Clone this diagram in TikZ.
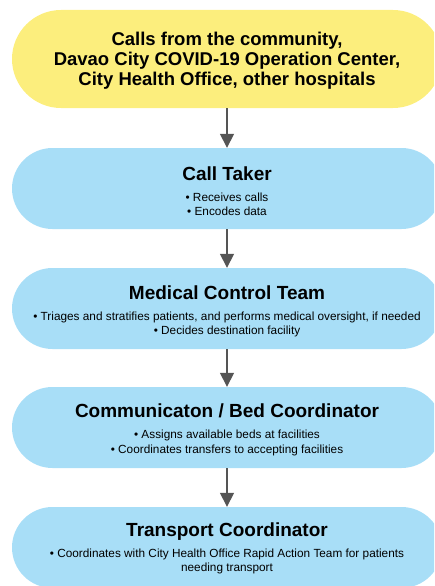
\documentclass[tikz,border=0pt]{standalone}
\usepackage{fontspec}
\setmainfont{Liberation Sans}
\usetikzlibrary{arrows.meta,shapes.misc}
\definecolor{boxyellow}{RGB}{252,238,125}
\definecolor{boxblue}{RGB}{168,222,247}
\definecolor{arrowgray}{RGB}{85,85,85}
\begin{document}
\begin{tikzpicture}[x=1pt,y=1pt,
  stadium/.style={rounded rectangle, draw=none, inner sep=0pt, minimum width=430pt},
  titletext/.style={anchor=base, inner sep=0pt, font=\fontsize{19}{20}\selectfont\bfseries},
  headtext/.style={anchor=base, inner sep=0pt, font=\fontsize{18.5}{20}\selectfont\bfseries},
  bodytext/.style={anchor=base, inner sep=0pt, font=\fontsize{11.8}{14}\selectfont},
  flow/.style={draw=arrowgray, line width=1.6pt, -{Triangle[width=14pt,length=14pt]}, arrowgray}
]
\clip (0,0) rectangle (434,-586);
\useasboundingbox (0,0) rectangle (434,-586);
% boxes
\node[stadium, fill=boxyellow, minimum height=98pt] (b1) at (227,-59) {};
\node[stadium, fill=boxblue, minimum height=81pt] (b2) at (227,-188.5) {};
\node[stadium, fill=boxblue, minimum height=81pt] (b3) at (227,-308.5) {};
\node[stadium, fill=boxblue, minimum height=81pt] (b4) at (227,-427.5) {};
\node[stadium, fill=boxblue, minimum height=81pt] (b5) at (227,-547.5) {};
% texts
\node[headtext] (t1a) at (227,-45.5) {Calls from the community,};
\node[headtext] (t1b) at (227,-65.5) {Davao City COVID-19 Operation Center,};
\node[headtext] (t1c) at (227,-85.5) {City Health Office, other hospitals};

\node[titletext] (t2) at (227,-180.5) {Call Taker};
\node[bodytext] (t2a) at (227,-201) {• Receives calls};
\node[bodytext] (t2b) at (227,-215.5) {• Encodes data};

\node[titletext] (t3) at (227,-299.5) {Medical Control Team};
\node[bodytext] (t3a) at (227,-320) {• Triages and stratifies patients, and performs medical oversight, if needed};
\node[bodytext] (t3b) at (227,-334.5) {• Decides destination facility};

\node[titletext] (t4) at (227,-417.5) {Communicaton / Bed Coordinator};
\node[bodytext] (t4a) at (227,-438.5) {• Assigns available beds at facilities};
\node[bodytext] (t4b) at (227,-453) {• Coordinates transfers to accepting facilities};

\node[titletext] (t5) at (227,-536.5) {Transport Coordinator};
\node[bodytext] (t5a) at (227,-557) {• Coordinates with City Health Office Rapid Action Team for patients};
\node[bodytext] (t5b) at (227,-571.5) {needing transport};
% arrows
\draw[flow] (b1.south) -- (b2.north);
\draw[flow] (b2.south) -- (b3.north);
\draw[flow] (b3.south) -- (b4.north);
\draw[flow] (b4.south) -- (b5.north);
\end{tikzpicture}
\end{document}
